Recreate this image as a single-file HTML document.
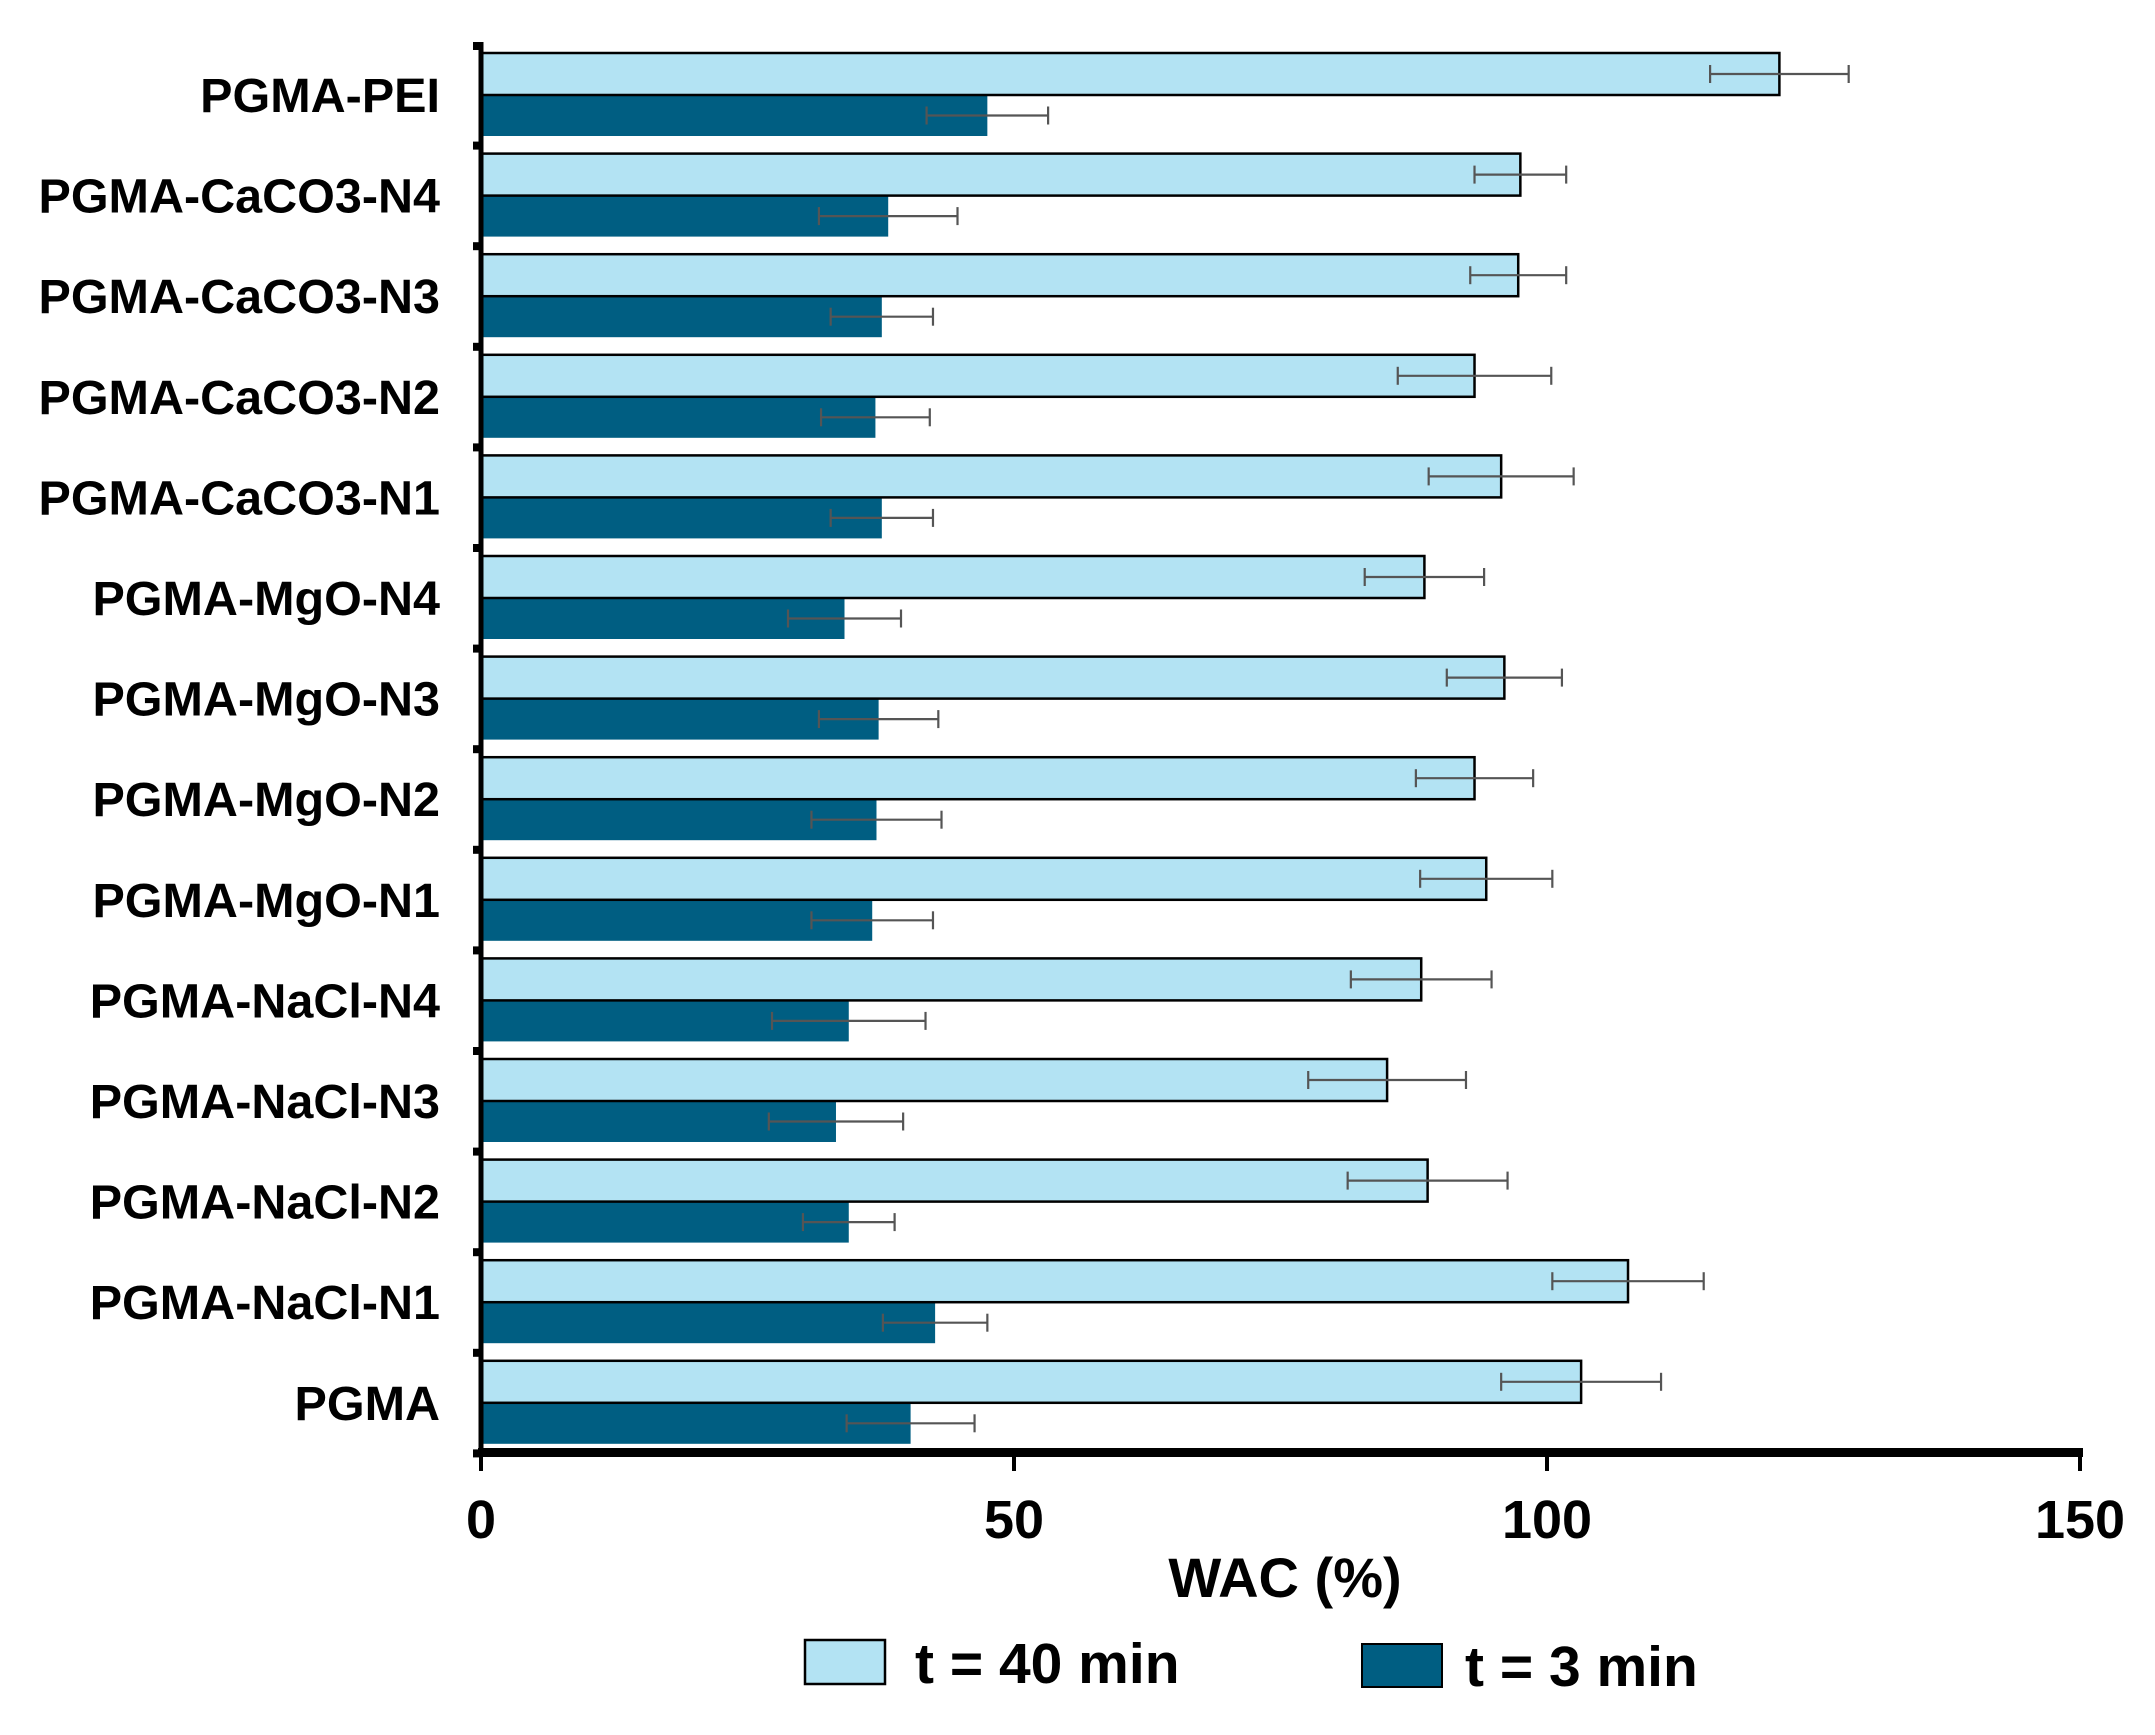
<!DOCTYPE html>
<html><head><meta charset="utf-8"><style>
html,body{margin:0;padding:0;background:#fff;width:2155px;height:1735px;overflow:hidden}
svg{display:block}
text{font-family:"Liberation Sans",Arial,sans-serif;font-weight:bold;fill:#000}
</style></head><body>
<svg id="chart" width="2155" height="1735" viewBox="0 0 2155 1735" xmlns="http://www.w3.org/2000/svg">
<g id="bars"></g>
<g id="axes"></g>
<text x="1285" y="1597" font-size="56" text-anchor="middle">WAC (%)</text>
<g>
<rect x="805" y="1640" width="80" height="44" fill="#b3e3f3" stroke="#000" stroke-width="2.5"/>
<text x="915" y="1683" font-size="57">t = 40 min</text>
<rect x="1362" y="1644" width="80" height="43" fill="#005e82" stroke="#000" stroke-width="2"/>
<text x="1465" y="1686" font-size="57">t = 3 min</text>
</g>
</svg>
<script>
const categories = ["PGMA-PEI","PGMA-CaCO3-N4","PGMA-CaCO3-N3","PGMA-CaCO3-N2","PGMA-CaCO3-N1","PGMA-MgO-N4","PGMA-MgO-N3","PGMA-MgO-N2","PGMA-MgO-N1","PGMA-NaCl-N4","PGMA-NaCl-N3","PGMA-NaCl-N2","PGMA-NaCl-N1","PGMA"];
const wac40 = [121.8,97.5,97.3,93.2,95.7,88.5,96.0,93.2,94.3,88.2,85.0,88.8,107.6,103.2];
const err40 = [6.5,4.3,4.5,7.2,6.8,5.6,5.4,5.5,6.2,6.6,7.4,7.5,7.1,7.5];
const wac3 = [47.5,38.2,37.6,37.0,37.6,34.1,37.3,37.1,36.7,34.5,33.3,34.5,42.6,40.3];
const err3 = [5.7,6.5,4.8,5.1,4.8,5.3,5.6,6.1,5.7,7.2,6.3,4.3,4.9,6.0];
const xTicks = [0,50,100,150];

const NS="http://www.w3.org/2000/svg";
const x0=481, x1=2080, xMax=150;
const xs=v=>x0+(x1-x0)*v/xMax;
const top0=53, pitch=100.6, hL=42, hD=41;
const gy=i=>top0+i*pitch;
function mk(tag,attrs,parent){const e=document.createElementNS(NS,tag);for(const k in attrs)e.setAttribute(k,attrs[k]);parent.appendChild(e);return e;}
const bars=document.getElementById('bars'), axes=document.getElementById('axes');
function errBar(v,e,yc,name){
  const g=mk('g',{stroke:'#555','stroke-width':2.2},bars);
  
  
  mk('line',{x1:xs(v-e),x2:xs(v+e),y1:yc,y2:yc},g);
  mk('line',{x1:xs(v-e),x2:xs(v-e),y1:yc-9,y2:yc+9},g);
  mk('line',{x1:xs(v+e),x2:xs(v+e),y1:yc-9,y2:yc+9},g);
}
categories.forEach((c,i)=>{
  const y=gy(i);
  const d=mk('rect',{x:x0,y:y+hL,width:xs(wac3[i])-x0,height:hD,fill:'#005e82'},bars);
  
  
  const l=mk('rect',{x:x0,y:y,width:xs(wac40[i])-x0,height:hL,fill:'#b3e3f3',stroke:'#000','stroke-width':2.5},bars);
  
  
  errBar(wac40[i],err40[i],y+hL/2,'error-bar-40min-'+i);
  errBar(wac3[i],err3[i],y+hL+hD/2,'error-bar-3min-'+i);
  const t=mk('text',{x:440,y:y+hL+17,'font-size':48.5,'text-anchor':'end'},axes);
  t.textContent=c;
  
  
});
const ya=mk('line',{x1:x0,x2:x0,y1:42,y2:1457,stroke:'#000','stroke-width':5},axes);


for(let i=0;i<=categories.length;i++){
  const ty=i===0?46:gy(i)-8;
  const tk=mk('rect',{x:x0-8,y:ty-4,width:8,height:8,fill:'#000'},axes);
  
  
}
const xa=mk('rect',{x:x0-3,y:1448,width:x1-x0+6,height:9,fill:'#000'},axes);


xTicks.forEach(v=>{
  const tk=mk('line',{x1:xs(v),x2:xs(v),y1:1455,y2:1471,stroke:'#000','stroke-width':4},axes);
  
  
  const t=mk('text',{x:xs(v),y:1538,'font-size':54,'text-anchor':'middle'},axes);
  t.textContent=v;
  
  
});
</script>
</body></html>
